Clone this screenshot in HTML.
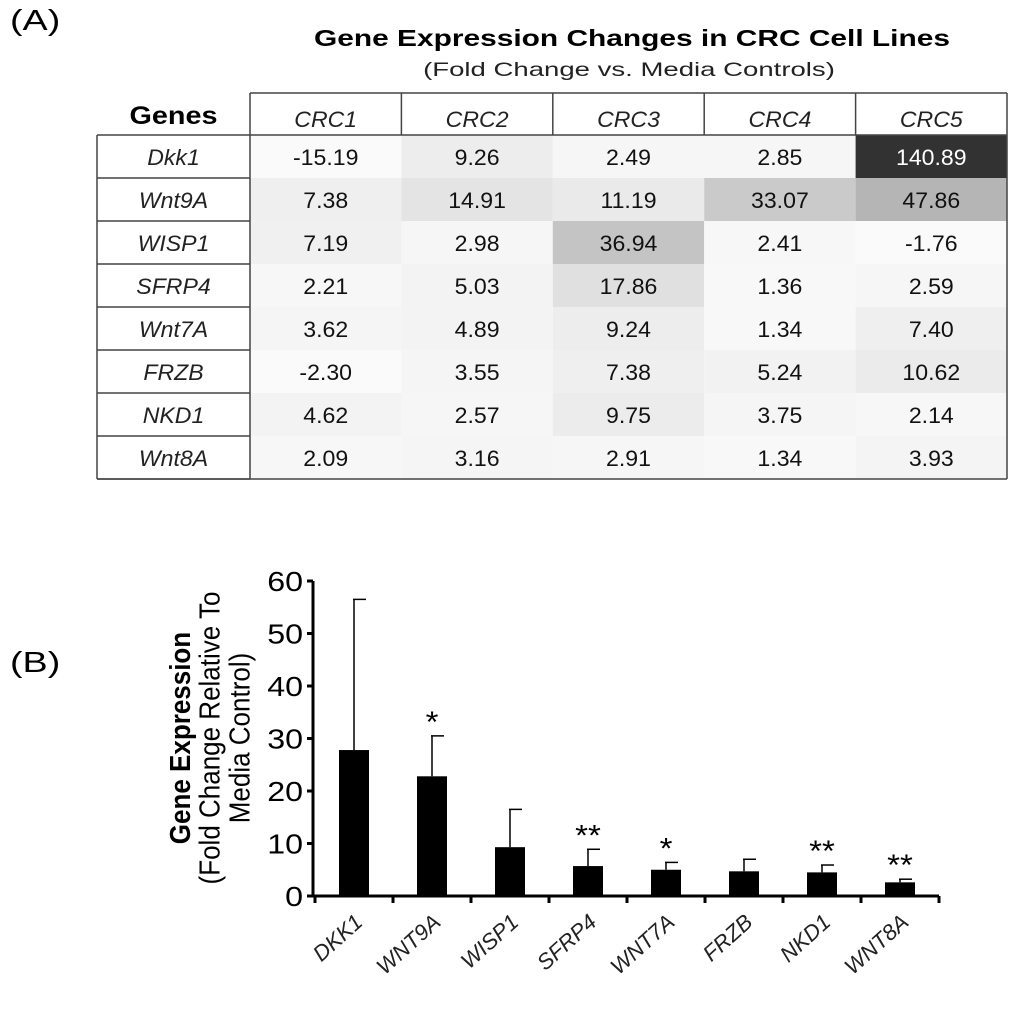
<!DOCTYPE html>
<html><head><meta charset="utf-8"><style>
body{margin:0;background:#fff;width:1024px;height:1007px;overflow:hidden;font-family:"Liberation Sans",Arial,sans-serif;}
</style></head><body>
<svg width="1024" height="1007" xmlns="http://www.w3.org/2000/svg" font-family="Liberation Sans, Arial, sans-serif">
<text transform="translate(10,30) scale(1.3,1)" font-size="29">(A)</text>
<text transform="translate(632,46) scale(1.3,1)" font-size="23" font-weight="bold" text-anchor="middle">Gene Expression Changes in CRC Cell Lines</text>
<text transform="translate(629,76) scale(1.45,1)" font-size="19" text-anchor="middle" fill="#222">(Fold Change vs. Media Controls)</text>
<g id="table"></g>
<text transform="translate(10,672) scale(1.3,1)" font-size="29">(B)</text>
<g id="chart"></g>
</svg>
<script>
const NS="http://www.w3.org/2000/svg";
function mk(p,t,a){const e=document.createElementNS(NS,t);for(const k in a)e.setAttribute(k,a[k]);p.appendChild(e);return e;}
function txt(p,x,y,s,a,sx,extra){const e=mk(p,'text',Object.assign({transform:`translate(${x},${y}) scale(${sx},1)`+(extra||'')},a));e.textContent=s;return e;}
// ---- table data ----
const genes=["Dkk1","Wnt9A","WISP1","SFRP4","Wnt7A","FRZB","NKD1","Wnt8A"];
const lines=["CRC1","CRC2","CRC3","CRC4","CRC5"];
const crc1=[-15.19,7.38,7.19,2.21,3.62,-2.30,4.62,2.09];
const crc2=[9.26,14.91,2.98,5.03,4.89,3.55,2.57,3.16];
const crc3=[2.49,11.19,36.94,17.86,9.24,7.38,9.75,2.91];
const crc4=[2.85,33.07,2.41,1.36,1.34,5.24,3.75,1.34];
const crc5=[140.89,47.86,-1.76,2.59,7.40,10.62,2.14,3.93];
const cols=[crc1,crc2,crc3,crc4,crc5];
const T=document.getElementById('table');
const tx0=97,gx=250,tx1=1007,ty0=93,hy=135,rh=43,cw=(tx1-gx)/5;
const hdr=txt(T,(tx0+gx)/2,124,"Genes",{'font-size':25,'font-weight':'bold','text-anchor':'middle'},1.15);


cols.forEach((col,c)=>{
  const x=gx+c*cw;
  col.forEach((v,r)=>{
    const y=hy+r*rh;
    let g=Math.round(250-Math.max(v,0)*1.45);g=Math.max(50,Math.min(255,g));
    const rc=mk(T,'rect',{x:x,y:y,width:cw,height:rh,fill:`rgb(${g},${g},${g})`});
    
    
    const t=txt(T,x+cw/2,y+30,v.toFixed(2),{'font-size':22,'text-anchor':'middle',fill:g<120?'#fff':'#111'},1.05);
    
    
  });
  const h=txt(T,x+cw/2,127,lines[c],{'font-size':22,'font-style':'italic','text-anchor':'middle',fill:'#222'},1.05);
  
  
});
genes.forEach((g,r)=>{
  const y=hy+r*rh;
  const t=txt(T,(tx0+gx)/2,y+30,g,{'font-size':22,'font-style':'italic','text-anchor':'middle',fill:'#222'},1.05);
  
  
  mk(T,'line',{x1:tx0,x2:gx,y1:y+rh,y2:y+rh,stroke:'#444','stroke-width':1.5});
});
mk(T,'line',{x1:tx0,x2:tx1,y1:hy,y2:hy,stroke:'#444','stroke-width':1.5});
mk(T,'line',{x1:gx,x2:tx1,y1:ty0,y2:ty0,stroke:'#444','stroke-width':1.5});
mk(T,'line',{x1:tx0,x2:tx0,y1:hy,y2:hy+8*rh,stroke:'#444','stroke-width':1.5});
mk(T,'line',{x1:tx1,x2:tx1,y1:ty0,y2:hy+8*rh,stroke:'#444','stroke-width':1.5});
mk(T,'line',{x1:gx,x2:gx,y1:ty0,y2:hy+8*rh,stroke:'#444','stroke-width':1.5});
mk(T,'line',{x1:tx0,x2:tx1,y1:hy+8*rh,y2:hy+8*rh,stroke:'#444','stroke-width':1.5});
for(let c=1;c<5;c++)mk(T,'line',{x1:gx+c*cw,x2:gx+c*cw,y1:ty0,y2:hy,stroke:'#444','stroke-width':1.5});
// ---- chart data ----
const cats=["DKK1","WNT9A","WISP1","SFRP4","WNT7A","FRZB","NKD1","WNT8A"];
const means=[27.8,22.8,9.3,5.7,5.0,4.7,4.5,2.6];
const upper=[56.5,30.5,16.5,8.9,6.4,7.0,5.9,3.2];
const stars=["","*","","**","*","","**","**"];
const yTicks=[0,10,20,30,40,50,60];
const C=document.getElementById('chart');
const ax=313,x0=315,step=78,y0=896,y60=581;
const Y=v=>y0-(v/60)*(y0-y60);
const X=i=>x0+step*i+step/2;
mk(C,'line',{x1:ax,x2:ax,y1:Y(60),y2:y0,stroke:'#000','stroke-width':3});
mk(C,'line',{x1:ax-6,x2:x0+step*8,y1:y0,y2:y0,stroke:'#000','stroke-width':3});
yTicks.forEach(v=>{
  mk(C,'line',{x1:ax-6,x2:ax,y1:Y(v),y2:Y(v),stroke:'#000','stroke-width':3});
  const t=txt(C,ax-10,Y(v)+10,String(v),{'font-size':28,'text-anchor':'end'},1.15);
  
  
});
for(let i=0;i<=8;i++)mk(C,'line',{x1:x0+step*i,x2:x0+step*i,y1:y0,y2:y0+7,stroke:'#000','stroke-width':3});
cats.forEach((c,i)=>{
  const cx=X(i);
  const e=mk(C,'line',{x1:cx,x2:cx,y1:Y(upper[i]),y2:Y(means[i]),stroke:'#000','stroke-width':1.5});
  
  
  mk(C,'line',{x1:cx-1,x2:cx+12,y1:Y(upper[i]),y2:Y(upper[i]),stroke:'#000','stroke-width':1.5});
  const b=mk(C,'rect',{x:cx-15,y:Y(means[i]),width:30,height:y0-Y(means[i]),fill:'#000'});
  
  
  if(stars[i]){const s=txt(C,cx,Y(upper[i])-4,stars[i],{'font-size':30,'text-anchor':'middle'},1.1);
    
    }
  const t=txt(C,cx+10,y0+28,c,{'font-size':22,'font-style':'italic','text-anchor':'end',fill:'#222'},1,' rotate(-42)');
  
  
});
const yt=mk(C,'text',{x:0,y:0,'font-size':26,'text-anchor':'middle',transform:'translate(190,738) scale(1.1,1) rotate(-90)'});


const a=mk(yt,'tspan',{x:0,dy:0,'font-weight':'bold'});a.textContent="Gene Expression";
const b2=mk(yt,'tspan',{x:0,dy:27});b2.textContent="(Fold Change Relative To";
const c2=mk(yt,'tspan',{x:0,dy:27});c2.textContent="Media Control)";
</script>
</body></html>
